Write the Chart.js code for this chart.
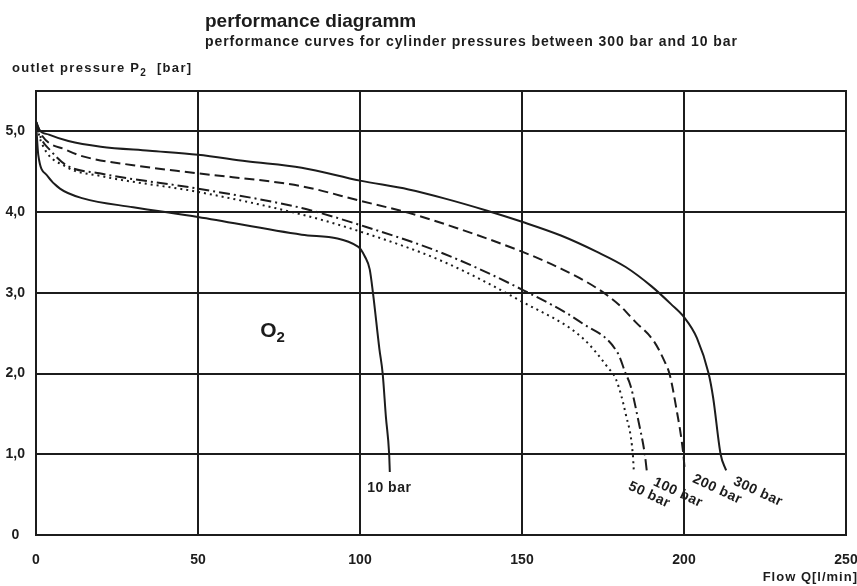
<!DOCTYPE html>
<html lang="en">
<head>
<meta charset="UTF-8" />
<title>performance diagramm – O2</title>
<script src="https://cdn.jsdelivr.net/npm/chart.js"></script>
<style>
  html, body { margin: 0; padding: 0; background: #fff; }
  #wrap { width: 857px; height: 586px; position: relative; }
</style>
</head>
<body>
<div id="wrap"><canvas id="perf"></canvas></div>
<script>
// flow Q [l/min] and outlet pressure P2 [bar]
const q300 = [0, 1, 4, 10, 20, 35, 50, 65, 82, 100, 115, 126, 139, 150, 162, 173, 182, 190, 196, 200, 204, 207.6, 209, 211.3, 213];
const p300 = [5.12, 5.02, 4.96, 4.88, 4.81, 4.76, 4.71, 4.63, 4.55, 4.39, 4.28, 4.17, 4.02, 3.88, 3.71, 3.51, 3.32, 3.08, 2.86, 2.7, 2.44, 2.0, 1.7, 1.0, 0.8];

const q200 = [0, 2, 9.4, 14.5, 30, 50, 82, 100, 115, 130, 150, 162, 173, 180, 185, 190.7, 194, 195.5, 197.5, 199.8, 200.2];
const p200 = [5.12, 4.94, 4.77, 4.69, 4.58, 4.48, 4.32, 4.14, 3.99, 3.8, 3.51, 3.3, 3.06, 2.85, 2.64, 2.4, 2.15, 2.0, 1.6, 1.0, 0.82];

const q100 = [0, 1.5, 4.3, 9.4, 19.6, 50, 82, 100, 125.5, 150, 168.7, 179.6, 182, 183.5, 186, 187.9, 188.5];
const p100 = [5.12, 4.92, 4.77, 4.58, 4.48, 4.29, 4.05, 3.84, 3.49, 3.04, 2.62, 2.25, 2.0, 1.85, 1.4, 1.0, 0.8];

const q50 = [0, 1.5, 9.4, 19.6, 50, 82, 100, 125.5, 150, 168.7, 176.6, 179, 182, 184.2, 184.5];
const p50 = [5.12, 4.88, 4.56, 4.45, 4.25, 3.97, 3.76, 3.39, 2.89, 2.44, 2.07, 1.93, 1.5, 1.0, 0.8];

const q10 = [0, 0.7, 3.3, 7.4, 14.5, 30, 50, 82, 99.5, 101.5, 103, 104, 106, 107, 108, 109, 109.2];
const p10 = [5.12, 4.71, 4.46, 4.29, 4.17, 4.06, 3.94, 3.72, 3.57, 3.45, 3.29, 3.0, 2.3, 2.0, 1.46, 1.0, 0.78];

const xTicks = [0, 50, 100, 150, 200, 250];
const yTicks = [0, 1, 2, 3, 4, 5];

const INK = '#1c1c1c';
const FONT = '"Liberation Sans", Arial, sans-serif';

function pts(qs, ps) {
  return qs.map((q, i) => ({ x: q, y: ps[i] }));
}

function curve(label, qs, ps, dash) {
  return {
    label: label,
    data: pts(qs, ps),
    borderColor: INK,
    borderWidth: 2,
    borderDash: dash,
    pointRadius: 0,
    fill: false,
    cubicInterpolationMode: 'monotone'
  };
}

// curve captions, placed in data units (left end of the baseline)
const captions = [
  { text: '10 bar',  q: 102.2, p: 0.53, rot: 0 },
  { text: '50 bar',  q: 182.6, p: 0.57, rot: 25 },
  { text: '100 bar', q: 190.3, p: 0.62, rot: 25 },
  { text: '200 bar', q: 202.4, p: 0.66, rot: 25 },
  { text: '300 bar', q: 215.0, p: 0.63, rot: 25 }
];

// draw a row of text pieces: [text, size, dy]
function runs(ctx, x, y, parts, spacing) {
  ctx.letterSpacing = spacing || '0px';
  for (const [t, size, dy] of parts) {
    ctx.font = `bold ${size}px ${FONT}`;
    ctx.fillText(t, x, y + dy);
    x += ctx.measureText(t).width;
  }
}

const textPlugin = {
  id: 'texts',
  beforeDatasetsDraw(chart) {
    const { ctx, chartArea: a } = chart;
    ctx.save();
    ctx.strokeStyle = INK;
    ctx.lineWidth = 2;
    ctx.strokeRect(a.left, a.top, a.right - a.left, a.bottom - a.top);
    ctx.restore();
  },
  afterDraw(chart) {
    const { ctx, scales: { x, y } } = chart;
    ctx.save();
    ctx.fillStyle = INK;
    ctx.textBaseline = 'alphabetic';
    ctx.textAlign = 'left';

    runs(ctx, 205, 27, [['performance diagramm', 19, 0]]);
    runs(ctx, 205, 46, [['performance curves for cylinder pressures between 300 bar and 10 bar', 14, 0]], '0.9px');
    runs(ctx, 12, 72, [['outlet pressure P', 13, 0], ['2', 10, 4], ['  [bar]', 13, 0]], '1.3px');

    // O2 marker
    runs(ctx, x.getPixelForValue(69.2), y.getPixelForValue(2.45), [['O', 21, 0], ['2', 15, 5]]);

    // axis unit, bottom right
    ctx.letterSpacing = '1px';
    ctx.font = `bold 13px ${FONT}`;
    ctx.textAlign = 'right';
    ctx.fillText('Flow Q[l/min]', 858, 581);
    ctx.textAlign = 'left';

    for (const c of captions) {
      ctx.save();
      ctx.translate(x.getPixelForValue(c.q), y.getPixelForValue(c.p));
      ctx.rotate(c.rot * Math.PI / 180);
      ctx.letterSpacing = '0.5px';
      ctx.font = `bold 14px ${FONT}`;
      ctx.fillText(c.text, 0, 0);
      ctx.restore();
    }
    ctx.restore();
  }
};

new Chart(document.getElementById('perf'), {
  type: 'scatter',
  data: {
    datasets: [
      curve('300 bar', q300, p300, []),
      curve('200 bar', q200, p200, [10, 5]),
      curve('100 bar', q100, p100, [11, 4, 2, 4]),
      curve('50 bar',  q50,  p50,  [2, 4]),
      curve('10 bar',  q10,  p10,  [])
    ]
  },
  options: {
    responsive: true,
    maintainAspectRatio: false,
    animation: false,
    showLine: true,
    layout: { padding: { top: 91, left: 4, right: 11, bottom: 0 } },
    plugins: {
      legend: { display: false },
      tooltip: { enabled: false }
    },
    scales: {
      x: {
        type: 'linear',
        min: 0,
        max: 250,
        afterBuildTicks: axis => { axis.ticks = xTicks.map(v => ({ value: v })); },
        afterFit: axis => { axis.height = 51; axis.paddingLeft = 0; axis.paddingRight = 0; },
        grid: { color: INK, lineWidth: 2, drawTicks: false },
        border: { color: INK, width: 2 },
        ticks: {
          color: INK,
          padding: 17,
          maxRotation: 0,
          font: { family: FONT, size: 14, weight: 'bold' }
        }
      },
      y: {
        type: 'linear',
        min: 0,
        max: 5.5,
        afterBuildTicks: axis => { axis.ticks = yTicks.map(v => ({ value: v })); },
        afterFit: axis => { axis.width = 32; axis.paddingTop = 0; axis.paddingBottom = 0; },
        grid: { color: INK, lineWidth: 2, drawTicks: false },
        border: { color: INK, width: 2 },
        ticks: {
          color: INK,
          padding: 11,
          crossAlign: 'center',
          font: { family: FONT, size: 14, weight: 'bold' },
          callback: v => v === 0 ? '0' : v.toFixed(1).replace('.', ',')
        }
      }
    }
  },
  plugins: [textPlugin]
});
</script>
</body>
</html>
